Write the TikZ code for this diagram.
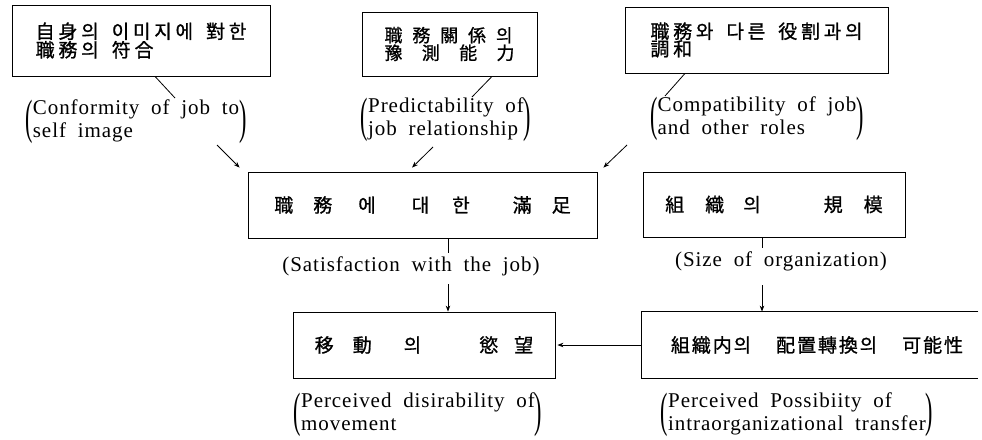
\documentclass[tikz,border=0pt]{standalone}
\usepackage{fontspec}
\usepackage{graphicx}
\setmainfont{Liberation Serif}[LetterSpace=4.5,WordSpace=1.9]
\newfontfamily\kra{Noto Sans CJK KR}[LetterSpace=20,FakeBold=1]
\newfontfamily\krb{Noto Sans CJK KR}[FakeBold=1]
\newfontfamily\krc{Noto Sans CJK KR}[LetterSpace=10,FakeBold=1]
\usetikzlibrary{arrows.meta}
\newcommand\lpar{\raisebox{-7pt}{\scalebox{1.05}[2.3]{(}}}
\newcommand\rpar{\raisebox{-7pt}{\scalebox{1.05}[2.3]{)}}}
\newcommand\engl[1]{\fontsize{21}{23}\selectfont\lpar\begin{tabular}{@{}l@{}}#1\end{tabular}\rpar}
\begin{document}
\begin{tikzpicture}[x=1pt,y=-1pt,line width=0.8pt,
  box/.style={draw,inner sep=0pt},
  topk/.style={font={\kra\fontsize{19}{17.5}\selectfont},align=left},
  midk/.style={font={\krb\fontsize{19}{19}\selectfont}},
  lab/.style={inner sep=0pt},
  arr/.style={-{Stealth[length=6pt,width=4.5pt]}}]
\useasboundingbox (0,0) rectangle (982,439);

% top boxes
\node[box,topk,minimum width=258pt,minimum height=71pt] (b1) at (141,40.5)
  {自身의\hspace{13pt}이미지에\hspace{13pt}對한\\職務의\hspace{13pt}符合};
\node[box,font={\krb\fontsize{18}{16}\selectfont},align=left,minimum width=175pt,minimum height=64pt] (b2) at (449.5,44)
  {\makebox[128pt][s]{職\hfill 務\hfill 關\hfill 係\hfill 의}\\\makebox[130pt][s]{豫\hfill 測\hfill 能\hfill 力}};
\node[box,topk,minimum width=263pt,minimum height=66pt] (b3) at (756.5,40)
  {職務와\hspace{13pt}다른\hspace{13pt}役割과의\\調和};

% english labels of top boxes
\node[lab] (l1) at (136,121) {\engl{Conformity of job to\\self image}};
\node[lab] (l2) at (446,119) {\engl{Predictability of\\job relationship}};
\node[lab] (l3) at (757,118) {\engl{Compatibility of job\\and other roles}};

% middle boxes
\node[box,midk,minimum width=349pt,minimum height=66pt] (sat) at (422.5,205)
  {職\hspace{20pt}務\hspace{26pt}에\hspace{36pt}대\hspace{23pt}한\hspace{43pt}滿\hspace{20pt}足};
\node[box,midk,minimum width=262pt,minimum height=65pt] (size) at (774,204.5)
  {組\hspace{21pt}織\hspace{19pt}의\hspace{63pt}規\hspace{21pt}模};

\node[lab,font={\fontsize{21}{23}\selectfont}] (ls) at (411,266) {(Satisfaction with the job)};
\node[lab,font={\fontsize{21}{23}\selectfont}] (lz) at (781,261) {(Size of organization)};

% bottom boxes
\node[box,midk,minimum width=262pt,minimum height=66pt] (mov) at (424,345)
  {移\hspace{19pt}動\hspace{32pt}의\hspace{58pt}慾\hspace{16pt}望};
\node[inner sep=0pt,font={\krc\fontsize{19}{19}\selectfont},minimum width=336pt,minimum height=66pt] (br) at (810,345)
  {\hspace*{14pt}組織内의\hspace{25pt}配置轉換의\hspace{25pt}可能性};
\draw (br.north east) -- (br.north west) -- (br.south west) -- (br.south east);

\node[lab] (lm) at (418,414) {\engl{Perceived disirability of\\movement}};
\node[lab] (lp) at (797,414) {\engl{Perceived Possibiity of\\intraorganizational transfer}};

% connectors
\coordinate (c1) at (175,98);
\coordinate (c2) at (472,97);
\coordinate (c3) at (665,96);
\draw ([xshift=14pt]b1.south) -- (c1);
\draw ([xshift=42.5pt]b2.south) -- (c2);
\draw ([xshift=-71.5pt]b3.south) -- (c3);

\coordinate (a1) at (217,145);
\coordinate (a2) at (433,147);
\coordinate (a3) at (627,145);
\draw[arr] (a1) -- ([xshift=-8pt,yshift=4pt]sat.north west);
\draw[arr] (a2) -- ([xshift=-10.5pt,yshift=4pt]sat.north);
\draw[arr] (a3) -- ([xshift=6pt,yshift=4pt]sat.north east);

\coordinate (c4) at (448,253);
\coordinate (a4) at (448,284);
\draw ([xshift=25.5pt]sat.south) -- (c4);
\draw[arr] (a4) -- ([xshift=24pt]mov.north);

\coordinate (c5) at (762,248);
\coordinate (a5) at (762,285);
\draw ([xshift=-12pt]size.south) -- (c5);
\draw[arr] (a5) -- ([xshift=-48pt]br.north);

\draw[arr] (br.west) -- ([xshift=2pt]mov.east);
\end{tikzpicture}
\end{document}
